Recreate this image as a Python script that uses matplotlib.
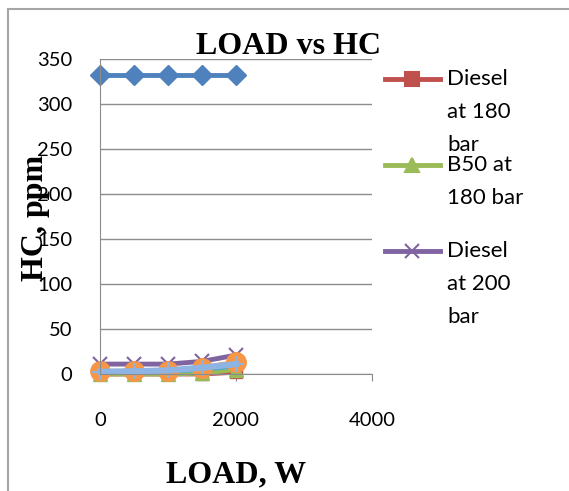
import matplotlib
matplotlib.use("Agg")
import matplotlib.pyplot as plt
from matplotlib.lines import Line2D
from matplotlib.patches import Rectangle

# data
load = [0, 500, 1000, 1500, 2000]
hc_top = [332, 332, 332, 332, 332]
diesel_180 = [0, 0, 0, 0, 2]
b50_180 = [0, 0, 0, 1, 5]
diesel_200 = [11, 11, 11, 14, 21]
aqua = [2, 2, 3, 5, 9]
orange = [3, 3, 3, 7, 13]
light_blue = [2.5, 3, 4, 7, 11]

legend_labels = ["Diesel\nat 180\nbar", "B50 at\n180 bar", "Diesel\nat 200\nbar"]

xticks = [0, 2000, 4000]
yticks = [0, 50, 100, 150, 200, 250, 300, 350]

W, H = 569, 491
fig = plt.figure(figsize=(W / 100, H / 100), dpi=100)
fig.patch.set_facecolor("white")

# chart border (cut off at right and bottom like the screenshot)
fig.add_artist(Rectangle((8 / W, -0.1), 1.2, 1 - 9 / H + 0.1, transform=fig.transFigure,
                         fill=False, ec="#a6a6a6", lw=1.5))

ax = fig.add_axes([100 / W, 1 - 374 / H, 272 / W, 315 / H])
ax.set_xlim(0, 4000)
ax.set_ylim(0, 350)
ax.set_xticks(xticks)
ax.set_yticks(yticks)
ax.grid(axis="y", color="#8c8c8c", lw=1)
ax.set_axisbelow(True)
for s in ["top", "right"]:
    ax.spines[s].set_visible(False)
ax.spines["left"].set_color("#8c8c8c")
ax.spines["bottom"].set_color("#8c8c8c")
ax.tick_params(axis="y", length=0, pad=20, labelsize=14.5)
ax.tick_params(axis="x", length=5, color="#8c8c8c", pad=22, labelsize=14.5)
for t in ax.get_xticklabels() + ax.get_yticklabels():
    t.set_family("Lato")

kw = dict(clip_on=False)
ax.plot(load, hc_top, color="#4f81bd", lw=3.5, marker="D", ms=10, **kw)
ax.plot(load, diesel_180, color="#c0504d", lw=3.5, marker="s", ms=9, **kw)
ax.plot(load, b50_180, color="#9bbb59", lw=3.5, marker="^", ms=10, **kw)
ax.plot(load, diesel_200, color="#8064a2", lw=3.5, marker="x", ms=10, mew=1.5, **kw)
ax.plot(load, aqua, color="#4bacc6", lw=3.5, marker="*", ms=9, **kw)
ax.plot(load, orange, color="#f79646", lw=3.5, marker="o", ms=14, **kw)
ax.plot(load, light_blue, color="#8eb4e3", lw=4.5, marker="+", ms=12, mew=1.5, **kw)

fig.text(288 / W, 1 - 46 / H, "LOAD vs HC", ha="center", va="center",
         family="Liberation Serif", fontweight="bold", fontsize=23)
fig.text(236 / W, 1 - 475 / H, "LOAD, W", ha="center", va="center",
         family="Liberation Serif", fontweight="bold", fontsize=23)
fig.text(36 / W, 1 - 218 / H, "HC, ppm", ha="center", va="center", rotation=90,
         family="Liberation Serif", fontweight="bold", fontsize=23)

# legend (only three entries visible in the original)
leg_colors = ["#c0504d", "#9bbb59", "#8064a2"]
leg_markers = ["s", "^", "x"]
for i, (lab, c, m) in enumerate(zip(legend_labels, leg_colors, leg_markers)):
    y0 = 79 + 86 * i
    yy = 1 - y0 / H
    fig.add_artist(Line2D([385 / W, 412 / W, 440 / W], [yy, yy, yy], color=c, lw=3.5,
                          marker=m, markevery=[1], ms=10, mew=1.5,
                          transform=fig.transFigure))
    for j, line in enumerate(lab.split("\n")):
        fig.text(447 / W, 1 - (y0 + 33 * j) / H, line, ha="left", va="center",
                 family="Lato", fontsize=16)

fig.savefig("out.png", dpi=100)
